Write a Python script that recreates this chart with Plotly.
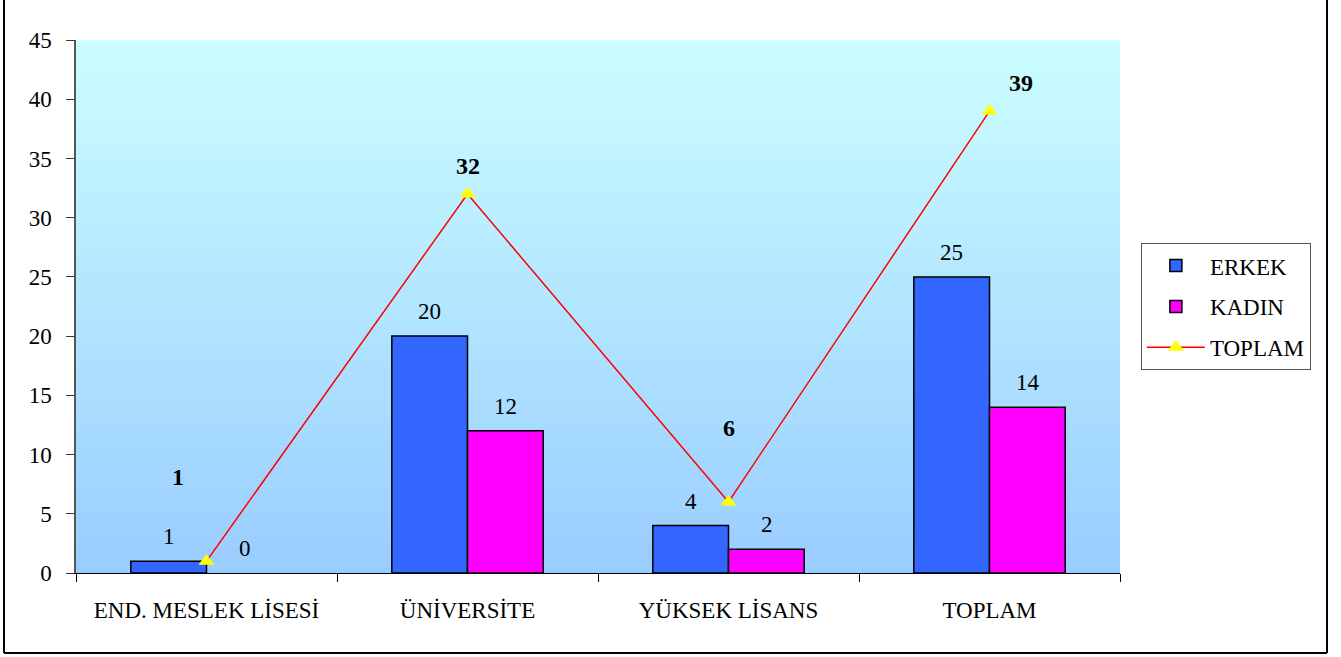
import plotly.graph_objects as go

categories = ["END. MESLEK LİSESİ", "ÜNİVERSİTE", "YÜKSEK LİSANS", "TOPLAM"]
erkek = [1, 20, 4, 25]
kadin = [0, 12, 2, 14]
toplam = [1, 32, 6, 39]
y_ticks = [0, 5, 10, 15, 20, 25, 30, 35, 40, 45]

# label offsets (pixels) for the TOPLAM value labels
toplam_label_dx = [-29, 0, 0, 31]
toplam_label_dy = [84, 28, 74, 28]

FONT = "Liberation Serif"
FS = 23


def drawn(values):
    # zero-height bars are not drawn (no outline sliver), as in the original
    return [v if v != 0 else None for v in values]


fig = go.Figure()
fig.add_trace(go.Bar(x=categories, y=drawn(erkek), name="ERKEK", legendgroup="a",
                     marker=dict(color="#3366FF", line=dict(color="black", width=1.5))))
fig.add_trace(go.Bar(x=categories, y=drawn(kadin), name="KADIN", legendgroup="b",
                     marker=dict(color="#FF00FF", line=dict(color="black", width=1.5))))
fig.add_trace(go.Scatter(x=categories, y=toplam, name="TOPLAM", mode="lines+markers",
                         legendgroup="c",
                         line=dict(color="#FF0000", width=1.5),
                         marker=dict(symbol="triangle-up", color="#FFFF00", size=14)))

annotations = []
for i, c in enumerate(categories):
    annotations.append(dict(x=c, y=erkek[i], xref="x", yref="y", text=str(erkek[i]),
                            showarrow=False, xshift=-38, yshift=10, yanchor="bottom",
                            font=dict(family=FONT, size=FS, color="black")))
    annotations.append(dict(x=c, y=kadin[i], xref="x", yref="y", text=str(kadin[i]),
                            showarrow=False, xshift=38, yshift=10, yanchor="bottom",
                            font=dict(family=FONT, size=FS, color="black")))
    annotations.append(dict(x=c, y=toplam[i], xref="x", yref="y", text="<b>%d</b>" % toplam[i],
                            showarrow=False, xshift=toplam_label_dx[i], yshift=toplam_label_dy[i],
                            yanchor="middle",
                            font=dict(family=FONT, size=24, color="black")))

# gradient background bands
shapes = []
n = 80
top = (204, 255, 255)
bot = (153, 204, 255)
for k in range(n):
    t = (k + 0.5) / n
    col = tuple(round(bot[j] + (top[j] - bot[j]) * t) for j in range(3))
    shapes.append(dict(type="rect", xref="paper", yref="paper", x0=0, x1=1,
                       y0=k / n, y1=(k + 1) / n, layer="below", line=dict(width=0),
                       fillcolor="rgb(%d,%d,%d)" % col))
# outer frame: left, right, bottom
fx0, fx1, fy0, fy1 = -72 / 1044, 1251 / 1044, -80 / 533, 1.2
frame = dict(color="black", width=2)
shapes.append(dict(type="line", xref="paper", yref="paper", x0=fx0, x1=fx0, y0=fy0, y1=fy1, line=frame))
shapes.append(dict(type="line", xref="paper", yref="paper", x0=fx1, x1=fx1, y0=fy0, y1=fy1, line=frame))
shapes.append(dict(type="line", xref="paper", yref="paper", x0=fx0, x1=fx1, y0=fy0, y1=fy0, line=frame))

fig.update_layout(
    width=1341, height=657,
    margin=dict(l=76, r=221, t=40, b=84),
    paper_bgcolor="white", plot_bgcolor="#B3E6FF",
    barmode="group", bargap=0.42, bargroupgap=0,
    font=dict(family=FONT, size=FS, color="black"),
    showlegend=True,
    legend=dict(x=1.02, y=0.619, xanchor="left", yanchor="top",
                bordercolor="#555555", borderwidth=1, bgcolor="white",
                font=dict(family=FONT, size=FS), traceorder="grouped", tracegroupgap=8,
                itemwidth=58),
    annotations=annotations, shapes=shapes,
)
fig.update_xaxes(showline=True, linecolor="black", linewidth=1, ticks="outside",
                 tickson="boundaries", ticklen=8, tickcolor="black",
                 showgrid=False, tickfont=dict(family=FONT, size=FS), ticklabelstandoff=16)
fig.update_yaxes(range=[0, 45], tickvals=y_ticks, showline=True, linecolor="#555555",
                 linewidth=1.5, ticks="outside", ticklen=8, tickcolor="#333333",
                 showgrid=False, zeroline=False, tickfont=dict(family=FONT, size=FS),
                 ticklabelstandoff=10)

fig.write_html("out.html", config={"displayModeBar": False},
               post_script="document.body.style.margin='0';document.body.style.overflow='hidden';")
